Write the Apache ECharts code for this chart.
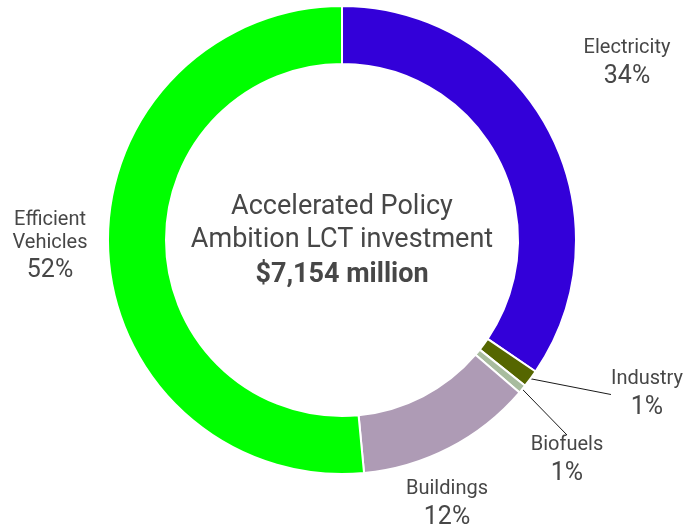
<!DOCTYPE html>
<html>
<head>
<meta charset="utf-8">
<script src="https://cdn.jsdelivr.net/npm/echarts@6/dist/echarts.min.js"></script>
<style>
html,body{margin:0;padding:0;background:#fff;}
#chart{width:688px;height:529px;}
</style>
</head>
<body>
<div id="chart"></div>
<script>
// Data
const categories = ['Electricity', 'Industry', 'Biofuels', 'Buildings', 'Efficient Vehicles'];
const displayNames = ['Electricity', 'Industry', 'Biofuels', 'Buildings', 'Efficient\nVehicles'];
const shares = [34.5, 1.2, 0.6, 12.2, 51.5];
const percentLabels = ['34%', '1%', '1%', '12%', '52%'];
const titleLines = ['Accelerated Policy', 'Ambition LCT investment', '$7,154 million'];

// Styling / layout (kept apart from data)
const colors = ['#3300D9', '#556600', '#A8BC9E', '#AE9BB5', '#00FF00'];
const showLine = [false, true, true, false, false];
const labelPos = [[627, 65], [647, 396], [567, 462], [447, 506], [50, 248]];
const cx = 342, cy = 240;
const txt = '#474747';
const font = 'Roboto, sans-serif';

const chart = echarts.init(document.getElementById('chart'), null, {renderer: 'canvas'});
chart.setOption({
  animation: false,
  backgroundColor: '#fff',
  series: [{
    type: 'pie',
    center: [cx, cy],
    radius: [176, 234],
    startAngle: 90,
    clockwise: true,
    avoidLabelOverlap: false,
    minAngle: 0,
    itemStyle: {borderColor: '#fff', borderWidth: 2},
    label: {
      show: true,
      position: 'outside',
      formatter: p => '{n|' + displayNames[p.dataIndex].split('\n').join('}\n{n|') + '}\n{p|' + percentLabels[p.dataIndex] + '}',
      rich: {
        n: {fontFamily: font, fontSize: 20, lineHeight: 23, color: txt, align: 'center'},
        p: {fontFamily: font, fontSize: 25, lineHeight: 34, color: txt, align: 'center'}
      },
      align: 'center'
    },
    labelLine: {show: false, lineStyle: {color: '#1a1a1a', width: 1}, length: 0, length2: 0, smooth: false},
    labelLayout: function (params) {
      const pos = labelPos[params.dataIndex];
      return {x: pos[0], y: pos[1], align: 'center', verticalAlign: 'middle'};
    },
    emphasis: {disabled: true},
    data: categories.map((c, i) => ({
      name: c,
      value: shares[i],
      itemStyle: {color: colors[i]},
      labelLine: {show: showLine[i]}
    }))
  }],
  graphic: [
    {type: 'text', x: cx, y: 207, style: {text: titleLines[0], textAlign: 'center', textVerticalAlign: 'middle', font: '400 27px Roboto, sans-serif', fill: txt}},
    {type: 'text', x: cx, y: 240, style: {text: titleLines[1], textAlign: 'center', textVerticalAlign: 'middle', font: '400 27px Roboto, sans-serif', fill: txt}},
    {type: 'text', x: cx, y: 275, style: {text: titleLines[2], textAlign: 'center', textVerticalAlign: 'middle', font: '700 27px Roboto, sans-serif', fill: txt}}
  ]
});
</script>
</body>
</html>
